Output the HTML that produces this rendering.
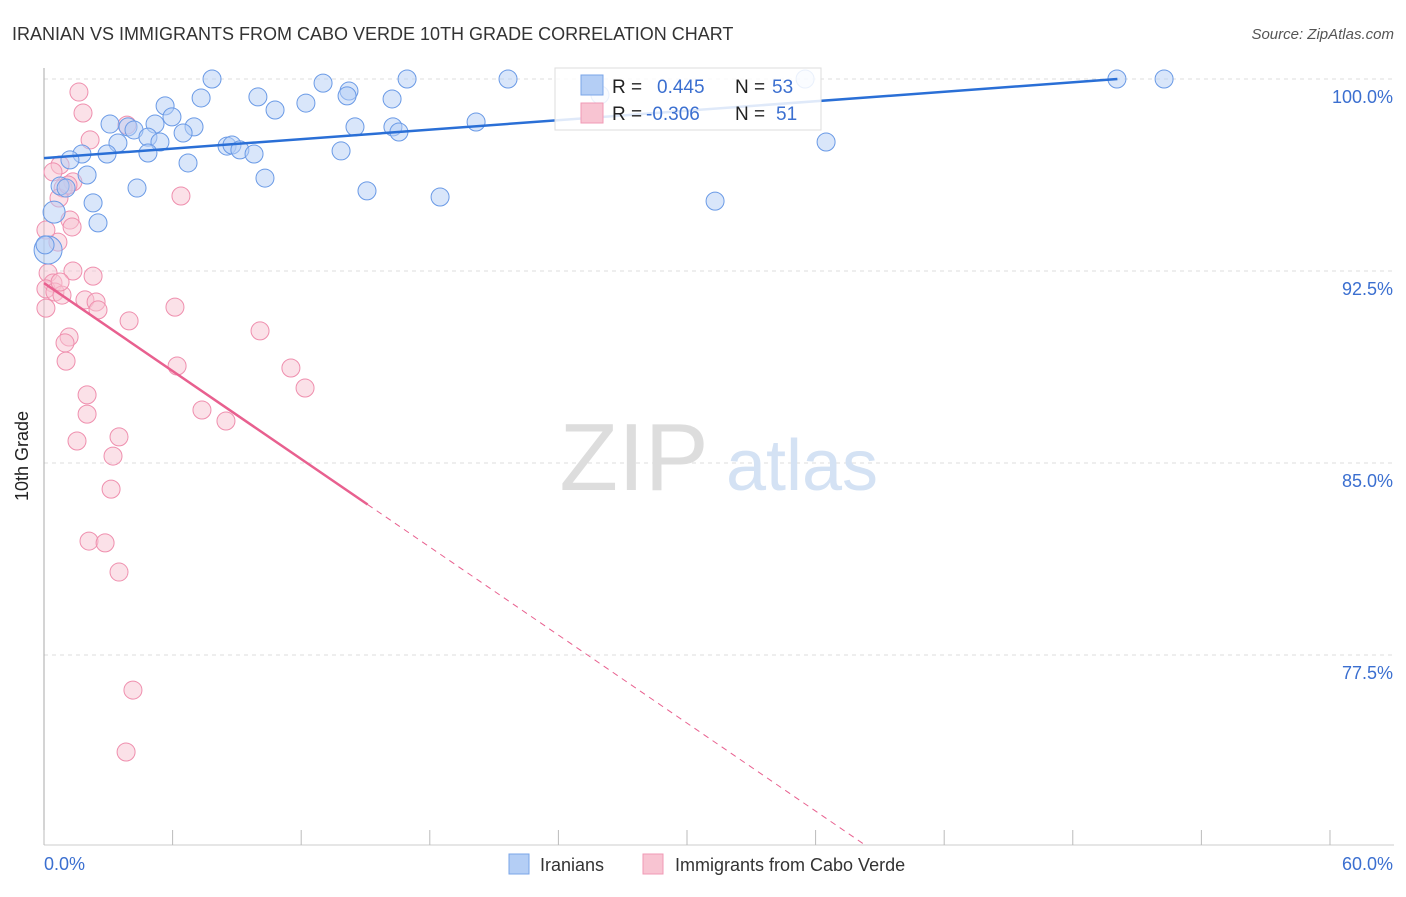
<!DOCTYPE html>
<html><head><meta charset="utf-8"><style>
body{margin:0;background:#fff;font-family:"Liberation Sans",sans-serif}
svg text{font-family:"Liberation Sans",sans-serif}
</style></head><body>
<svg width="1406" height="892" viewBox="0 0 1406 892">
<text x="12" y="40" font-size="18" fill="#333">IRANIAN VS IMMIGRANTS FROM CABO VERDE 10TH GRADE CORRELATION CHART</text>
<text x="1394" y="39" font-size="15" fill="#555" text-anchor="end" font-style="italic">Source: ZipAtlas.com</text>
<g id="grid"></g>
<text x="634" y="490" font-size="96" fill="#ddd" font-family="Liberation Serif" text-anchor="middle">ZIP</text>
<text x="802" y="490" font-size="72" fill="#d4e2f4" text-anchor="middle">atlas</text>
<line x1="44" y1="68" x2="44" y2="845" stroke="#aaa"/>
<line x1="44" y1="845" x2="1394" y2="845" stroke="#ccc"/>
<g id="xticks"></g>
<text x="28" y="456" font-size="18" fill="#222" text-anchor="middle" transform="rotate(-90 28 456)">10th Grade</text>
<text x="44" y="870" font-size="18" fill="#3b6fd0">0.0%</text>
<text x="1393" y="870" font-size="18" fill="#3b6fd0" text-anchor="end">60.0%</text>
<g id="pts"></g>
<g id="trends"></g>
<g>
<rect x="555" y="68" width="266" height="62" fill="#fff" fill-opacity="0.85" stroke="#ddd"/>
<rect x="581" y="75" width="22" height="20" fill="#b4cef5" stroke="#7aa5e8"/>
<rect x="581" y="103" width="22" height="20" fill="#f8c4d2" stroke="#f09ab5"/>
<text x="612" y="93" font-size="19" fill="#222">R =</text>
<text x="657" y="93" font-size="19" fill="#3b6fd0">0.445</text>
<text x="735" y="93" font-size="19" fill="#222">N =</text>
<text x="772" y="93" font-size="19" fill="#3b6fd0">53</text>
<text x="612" y="120" font-size="19" fill="#222">R =</text>
<text x="646" y="120" font-size="19" fill="#3b6fd0">-0.306</text>
<text x="735" y="120" font-size="19" fill="#222">N =</text>
<text x="776" y="120" font-size="19" fill="#3b6fd0">51</text>
</g>
<g>
<rect x="509" y="854" width="20" height="20" fill="#b4cef5" stroke="#7aa5e8"/>
<text x="540" y="871" font-size="18" fill="#333">Iranians</text>
<rect x="643" y="854" width="20" height="20" fill="#f8c4d2" stroke="#f09ab5"/>
<text x="675" y="871" font-size="18" fill="#333">Immigrants from Cabo Verde</text>
</g>
</svg>
<script>
const yTicks=[100,92.5,85,77.5];
const yTickLabels=["100.0%","92.5%","85.0%","77.5%"];
const xTicks=[0,6,12,18,24,30,36,42,48,54,60];
const blueX=[7.84,16.94,21.65,13.02,35.51,50.06,52.26,14.23,14.14,5.65,7.33,9.98,12.22,10.78,3.08,3.92,5.18,5.97,7.00,6.49,4.20,16.24,14.51,16.28,16.56,20.16,4.85,3.45,5.41,2.94,1.77,1.21,4.85,8.54,8.77,9.14,9.80,13.86,6.72,2.01,10.31,36.49,0.75,1.03,4.34,15.07,18.48,31.31,2.29,2.52,0.47,0.19,0.05,25.94];
const blueY=[100,100,100,99.84,100,100,100,99.53,99.34,98.95,99.26,99.30,99.06,98.79,98.24,98.13,98.24,98.52,98.13,97.89,98.01,99.22,98.13,98.13,97.93,98.32,97.73,97.50,97.54,97.07,97.07,96.84,97.11,97.38,97.42,97.23,97.07,97.19,96.72,96.25,96.13,97.54,95.82,95.74,95.74,95.63,95.39,95.23,95.16,94.38,94.80,93.32,93.52,99.38];
const blueR=[9,9,9,9,9,9,9,9,9,9,9,9,9,9,9,9,9,9,9,9,9,9,9,9,9,9,9,9,9,9,9,9,9,9,9,9,9,9,9,9,9,9,9,9,9,9,9,9,9,9,11,14,9,9];
const pinkX=[1.63,1.82,2.15,3.87,0.75,0.42,1.35,0.89,0.70,1.21,1.31,6.39,0.65,0.09,1.35,2.29,0.19,0.42,0.09,0.51,0.84,1.91,2.43,2.52,6.11,3.97,0.09,1.17,0.98,10.08,1.03,6.21,11.52,12.18,2.01,7.37,2.01,8.49,3.50,1.54,3.22,3.13,2.10,2.85,3.50,4.15,3.83,1.12,0.75];
const pinkY=[99.49,98.67,97.62,98.20,96.64,96.37,95.98,95.74,95.35,94.49,94.22,95.43,93.63,94.10,92.5,92.30,92.42,92.03,91.80,91.68,91.56,91.37,91.29,90.98,91.09,90.55,91.05,89.92,89.69,90.16,88.98,88.79,88.71,87.93,87.66,87.07,86.91,86.64,86.02,85.86,85.27,83.98,81.95,81.88,80.74,76.13,73.71,95.86,92.07];
const blueA=96.91, blueB=0.0617;
const pinkA=92.03, pinkB=-0.573;
const NS="http://www.w3.org/2000/svg";
const X=v=>44+v*21.433, Y=v=>79+(100-v)*25.6;
function mk(t,a,p){const e=document.createElementNS(NS,t);for(const k in a)e.setAttribute(k,a[k]);(p||document.querySelector('svg')).appendChild(e);return e;}
const grid=document.getElementById('grid');
yTicks.forEach((v,i)=>{
 const l=mk('line',{x1:44,x2:1394,y1:Y(v),y2:Y(v),stroke:'#ddd','stroke-dasharray':'4,4'},grid);
 
 
 const t=mk('text',{x:1393,y:Y(v)+24,'font-size':18,fill:'#3b6fd0','text-anchor':'end'},grid);
 t.textContent=yTickLabels[i];
 
 
});
const xt=document.getElementById('xticks');
xTicks.forEach(v=>{
 const l=mk('line',{x1:X(v),x2:X(v),y1:830,y2:845,stroke:'#bbb'},xt);
 
 
});
const pts=document.getElementById('pts');
pinkX.forEach((x,i)=>{
 const c=mk('circle',{cx:X(x),cy:Y(pinkY[i]),r:9,fill:'#f8c4d2','fill-opacity':0.5,stroke:'#ef8fae','stroke-width':1},pts);
 
 
});
blueX.forEach((x,i)=>{
 const c=mk('circle',{cx:X(x),cy:Y(blueY[i]),r:blueR[i],fill:'#b4cef5','fill-opacity':0.5,stroke:'#6a9ae6','stroke-width':1},pts);
 
 
});
const tr=document.getElementById('trends');
const bx2=(100-blueA)/blueB;
const b=mk('line',{x1:X(0),y1:Y(blueA),x2:X(bx2),y2:Y(100),stroke:'#2a6fd6','stroke-width':2.5},tr);


const ps=15.1, pe=(70.08-pinkA)/pinkB;
const p1=mk('line',{x1:X(0),y1:Y(pinkA),x2:X(ps),y2:Y(pinkA+pinkB*ps),stroke:'#e8608f','stroke-width':2.5},tr);


const p2=mk('line',{x1:X(ps),y1:Y(pinkA+pinkB*ps),x2:X(pe),y2:Y(pinkA+pinkB*pe),stroke:'#e8608f','stroke-width':1,'stroke-dasharray':'6,5'},tr);


</script>
</body></html>
